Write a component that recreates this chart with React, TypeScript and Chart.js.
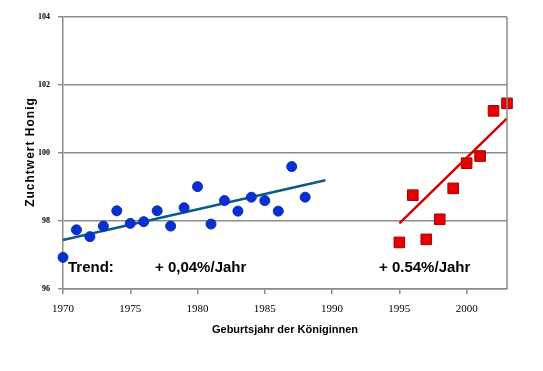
import React, { useEffect, useRef } from "react";
import { Chart, registerables } from "chart.js";

Chart.register(...registerables);

const blueYears = [1970, 1971, 1972, 1973, 1974, 1975, 1976, 1977, 1978, 1979, 1980, 1981, 1982, 1983, 1984, 1985, 1986, 1987, 1988];
const blueValues = [96.93, 97.74, 97.54, 97.85, 98.3, 97.93, 97.98, 98.3, 97.85, 98.39, 99.01, 97.91, 98.6, 98.29, 98.7, 98.6, 98.29, 99.6, 98.7];
const redYears = [1995, 1996, 1997, 1998, 1999, 2000, 2001, 2002, 2003];
const redValues = [97.37, 98.76, 97.46, 98.05, 98.96, 99.7, 99.91, 101.24, 101.46];
const blueTrendYears = [1970, 1989.5];
const blueTrendValues = [97.44, 99.2];
const redTrendYears = [1995, 2003];
const redTrendValues = [97.93, 101.02];
const xTicks = [1970, 1975, 1980, 1985, 1990, 1995, 2000];
const yTicks = [96, 98, 100, 102, 104];
const yTitle = "Zuchtwert Honig";
const xTitle = "Geburtsjahr der Königinnen";
const trendLabel = "Trend:";
const blueTrendLabel = "+ 0,04%/Jahr";
const redTrendLabel = "+ 0.54%/Jahr";

const toPts = (xs: number[], ys: number[]) => xs.map((x, i) => ({ x, y: ys[i] }));

export default function App() {
  const ref = useRef<HTMLCanvasElement>(null);
  useEffect(() => {
    if (!ref.current) return;
    const overlay = {
      id: "overlay",
      afterDraw(chart: any) {
        const { ctx, chartArea } = chart;
        ctx.save();
        ctx.strokeStyle = "#8c8c8c";
        ctx.lineWidth = 1.5;
        ctx.beginPath();
        ctx.moveTo(chartArea.right, chartArea.top);
        ctx.lineTo(chartArea.right, chartArea.bottom);
        ctx.stroke();
        ctx.fillStyle = "#000";
        ctx.textBaseline = "middle";
        ctx.font = "bold 15px 'Liberation Sans', Arial, sans-serif";
        ctx.textAlign = "left";
        ctx.fillText(trendLabel, 68, 268);
        ctx.fillText(blueTrendLabel, 155, 268);
        ctx.fillText(redTrendLabel, 379, 268);
        ctx.font = "bold 11px 'Liberation Sans', Arial, sans-serif";
        ctx.textAlign = "center";
        ctx.fillText(xTitle, (chartArea.left + chartArea.right) / 2, 330);
        ctx.save();
        ctx.translate(31, 152);
        ctx.rotate(-Math.PI / 2);
        ctx.font = "bold 12px 'Liberation Sans', Arial, sans-serif";
        (ctx as any).letterSpacing = "1px";
        ctx.fillText(yTitle, 0, 0);
        ctx.restore();
        ctx.restore();
      },
    };
    const chart = new Chart(ref.current, {
      type: "scatter",
      data: {
        datasets: [
          {
            type: "line",
            data: toPts(blueTrendYears, blueTrendValues),
            borderColor: "#0b5a8c",
            borderWidth: 2.5,
            pointRadius: 0,
            clip: false,
            order: 2,
          } as any,
          {
            type: "line",
            data: toPts(redTrendYears, redTrendValues),
            borderColor: "#d40000",
            borderWidth: 2.5,
            pointRadius: 0,
            clip: false,
            order: 2,
          } as any,
          {
            data: toPts(blueYears, blueValues),
            backgroundColor: "#0a2fd0",
            borderColor: "#0a2fc0",
            borderWidth: 1,
            pointRadius: 5,
            pointStyle: "circle",
            clip: false,
            order: 1,
          },
          {
            data: toPts(redYears, redValues),
            backgroundColor: "#e80000",
            borderColor: "#a00000",
            borderWidth: 1,
            pointRadius: 7.5,
            pointStyle: "rect",
            clip: false,
            order: 1,
          },
        ],
      },
      options: {
        animation: false,
        responsive: false,
        layout: { padding: { left: 0, top: 17, right: 36, bottom: 0 } },
        plugins: { legend: { display: false }, tooltip: { enabled: false } },
        scales: {
          x: {
            type: "linear",
            min: 1970,
            max: 2003,
            afterFit: (s: any) => { s.height = 82; },
            afterBuildTicks: (s: any) => { s.ticks = xTicks.map((v) => ({ value: v })); },
            ticks: { padding: 9, color: "#000", font: { family: "'Liberation Serif', serif", size: 11 }, callback: (v: any) => String(v) },
            grid: { drawOnChartArea: false, drawTicks: true, tickLength: 5, color: "#8c8c8c", lineWidth: 1.5 },
            border: { color: "#8c8c8c", width: 1.5 },
          },
          y: {
            min: 96,
            max: 104,
            afterFit: (s: any) => { s.width = 63; },
            afterBuildTicks: (s: any) => { s.ticks = yTicks.map((v) => ({ value: v })); },
            ticks: { padding: 8, color: "#000", font: { family: "'Liberation Serif', serif", size: 8, weight: "bold" }, callback: (v: any) => String(v) },
            grid: { color: "#8c8c8c", lineWidth: 1.5, tickLength: 5 },
            border: { color: "#8c8c8c", width: 1.5 },
          },
        },
      },
      plugins: [overlay],
    });
    return () => chart.destroy();
  }, []);
  return (
    <div style={{ position: "absolute", left: 0, top: 0, width: 543, height: 371, background: "#fff" }}>
      <canvas ref={ref} width={543} height={371} />
    </div>
  );
}
